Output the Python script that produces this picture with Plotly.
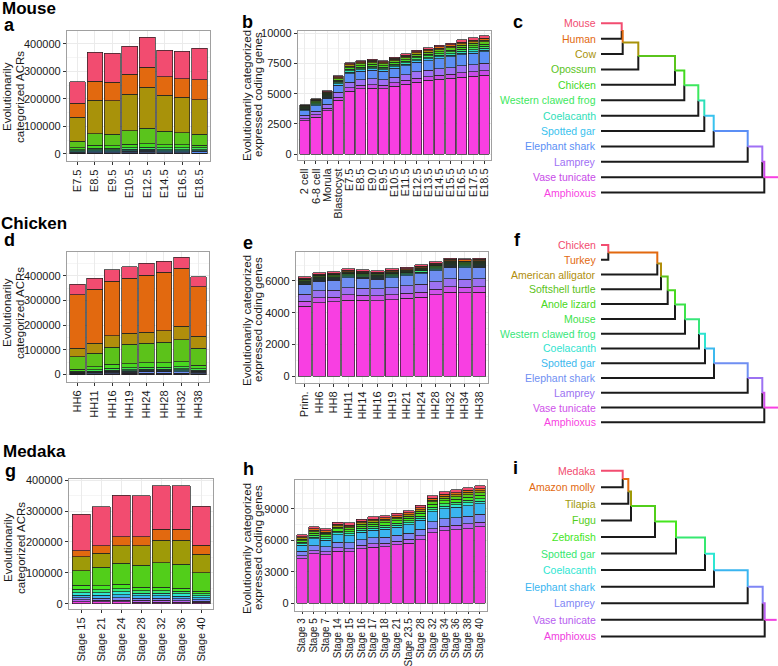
import plotly.graph_objects as go

W, H = 778, 666

# ------------------------------------------------------------------ Mouse
mouse_acr_stages = ["E7.5", "E8.5", "E9.5", "E10.5", "E12.5", "E14.5", "E16.5", "E18.5"]
mouse_gene_stages = ["2 cell", "6-8 cell", "Morula", "Blastocyst", "E7.5", "E8.5", "E9.0", "E9.5",
                     "E10.5", "E11.5", "E12.5", "E13.5", "E14.5", "E15.5", "E16.5", "E17.5", "E18.5"]
mouse_species = ["Mouse", "Human", "Cow", "Opossum", "Chicken", "Western clawed frog", "Coelacanth",
                 "Spotted gar", "Elephant shark", "Lamprey", "Vase tunicate", "Amphioxus"]
mouse_colors = ["#F24C70", "#E2690F", "#A8920A", "#5AC41C", "#42D91F", "#3DE85E", "#2DE0B8",
                "#38C2EE", "#5B8FF5", "#A070F5", "#C84BE8", "#F83FE2"]
mouse_acr_values = [
    [77000, 105000, 106000, 101000, 109000, 97000, 99000, 114000],
    [52000, 69000, 67000, 72000, 74000, 66000, 67000, 72000],
    [86000, 123000, 122000, 133000, 149000, 132000, 130000, 127000],
    [25000, 41000, 42000, 49000, 55000, 48000, 44000, 39000],
    [7000, 11000, 10000, 12500, 13000, 11500, 11000, 10000],
    [4000, 6000, 5500, 7000, 7500, 6500, 6300, 6000],
    [2500, 3500, 3300, 4000, 4200, 3800, 3700, 3500],
    [2000, 3000, 2800, 3300, 3500, 3200, 3100, 3000],
    [3000, 4500, 4400, 5000, 5500, 5000, 5000, 6000],
    [1200, 1500, 1500, 1600, 1600, 1500, 1500, 1300],
    [1200, 1300, 1300, 1400, 1400, 1300, 1300, 1200],
    [1100, 1200, 1200, 1200, 1300, 1200, 1100, 1000],
]
mouse_gene_values = [
    [40, 45, 65, 75, 80, 75, 88, 75, 82, 93, 109, 117, 127, 135, 176, 183, 205],
    [40, 50, 55, 70, 90, 90, 92, 90, 95, 100, 105, 108, 115, 118, 125, 130, 135],
    [50, 60, 65, 80, 100, 100, 102, 100, 105, 110, 115, 117, 122, 125, 132, 137, 140],
    [80, 95, 100, 120, 145, 145, 148, 145, 150, 155, 163, 167, 175, 180, 190, 196, 200],
    [70, 80, 85, 105, 125, 125, 128, 125, 128, 132, 138, 142, 150, 155, 162, 168, 170],
    [70, 80, 85, 105, 125, 125, 128, 125, 128, 132, 138, 142, 150, 155, 162, 168, 170],
    [60, 70, 75, 95, 110, 110, 112, 110, 112, 115, 120, 122, 128, 132, 138, 145, 150],
    [70, 80, 85, 100, 110, 110, 112, 110, 115, 118, 122, 125, 128, 130, 135, 138, 140],
    [390, 460, 500, 600, 700, 700, 715, 700, 725, 750, 790, 805, 845, 870, 915, 945, 965],
    [260, 300, 330, 390, 450, 450, 460, 450, 470, 480, 510, 520, 545, 560, 585, 595, 600],
    [170, 200, 210, 250, 290, 290, 295, 290, 300, 305, 320, 325, 335, 340, 350, 355, 360],
    [2780, 3050, 3575, 4480, 5225, 5420, 5470, 5420, 5610, 5800, 5970, 6100, 6190, 6270, 6380, 6460, 6545],
]
mouse_tree_nodes = [20.7, 21.7, 37.3, 74.0, 83.3, 97.3, 103.3, 112.7, 146.7, 161.3, 163.3]
mouse_tree_root = 177

# ------------------------------------------------------------------ Chicken
chicken_acr_stages = ["HH6", "HH11", "HH16", "HH19", "HH24", "HH28", "HH32", "HH38"]
chicken_gene_stages = ["Prim.", "HH6", "HH8", "HH11", "HH14", "HH16", "HH19", "HH21", "HH24",
                       "HH28", "HH32", "HH34", "HH38"]
chicken_species = ["Chicken", "Turkey", "American alligator", "Softshell turtle", "Anole lizard",
                   "Mouse", "Western clawed frog", "Coelacanth", "Spotted gar", "Elephant shark",
                   "Lamprey", "Vase tunicate", "Amphioxus"]
chicken_colors = ["#F24C70", "#E2690F", "#B08E0C", "#5CC21A", "#48D820", "#3DE24A", "#38E67A",
                  "#2FE3CF", "#3DB9EE", "#6F8FF2", "#9C72F2", "#CF52EA", "#F83FE2"]
chicken_acr_values = [
    [44000, 43000, 48000, 48000, 49000, 45000, 43000, 40000],
    [216000, 220000, 220000, 222000, 232000, 237000, 236000, 201000],
    [34000, 41000, 48000, 45000, 44000, 47000, 55000, 48000],
    [52000, 54000, 68000, 78000, 79000, 82000, 89000, 69000],
    [8000, 13000, 17000, 18000, 19000, 19500, 20000, 15000],
    [3000, 5000, 6500, 7000, 7500, 7700, 8000, 6000],
    [2000, 3000, 4000, 4300, 4600, 4700, 5000, 3600],
    [1500, 2000, 2700, 3000, 3200, 3200, 3500, 2500],
    [1500, 2000, 2500, 2700, 3000, 3000, 3200, 2300],
    [2500, 3500, 5000, 5500, 6000, 6200, 7500, 4800],
    [1000, 1300, 1600, 1600, 1700, 1700, 1800, 1400],
    [800, 1100, 1400, 1500, 1500, 1500, 1500, 1200],
    [700, 1100, 1300, 1400, 1500, 1500, 1500, 1200],
]
chicken_gene_values = [
    [90, 91, 88, 92, 83, 88, 93, 94, 94, 89, 70, 70, 70],
    [70, 72, 73, 74, 73, 72, 73, 75, 78, 80, 82, 82, 82],
    [40, 41, 42, 43, 42, 41, 42, 43, 45, 46, 48, 48, 48],
    [50, 52, 53, 54, 53, 52, 53, 54, 56, 57, 60, 60, 60],
    [50, 52, 53, 54, 53, 52, 53, 54, 56, 57, 60, 60, 60],
    [50, 52, 53, 54, 53, 52, 53, 54, 56, 57, 60, 60, 60],
    [60, 62, 63, 64, 63, 62, 63, 64, 67, 68, 71, 71, 71],
    [50, 52, 53, 54, 53, 52, 53, 54, 56, 57, 59, 59, 59],
    [60, 60, 62, 63, 62, 61, 62, 64, 66, 67, 70, 70, 70],
    [600, 615, 620, 635, 620, 610, 630, 640, 665, 680, 710, 710, 710],
    [430, 440, 445, 455, 445, 440, 450, 460, 480, 490, 510, 510, 510],
    [300, 310, 310, 320, 315, 310, 315, 320, 330, 340, 350, 350, 350],
    [4420, 4630, 4675, 4800, 4780, 4760, 4820, 4905, 4970, 5135, 5285, 5260, 5285],
]
chicken_tree_nodes = [7.3, 56.3, 60.0, 66.7, 74.0, 84.0, 98.0, 104.0, 113.0, 146.7, 161.3, 163.3]
chicken_tree_root = 177

# ------------------------------------------------------------------ Medaka
medaka_acr_stages = ["Stage 15", "Stage 21", "Stage 24", "Stage 28", "Stage 32", "Stage 36", "Stage 40"]
medaka_gene_stages = ["Stage 3", "Stage 5", "Stage 7", "Stage 14", "Stage 15", "Stage 16", "Stage 17",
                      "Stage 18", "Stage 21", "Stage 23.5", "Stage 28", "Stage 32", "Stage 34",
                      "Stage 36", "Stage 38", "Stage 40"]
medaka_species = ["Medaka", "Amazon molly", "Tilapia", "Fugu", "Zebrafish", "Spotted gar",
                  "Coelacanth", "Elephant shark", "Lamprey", "Vase tunicate", "Amphioxus"]
medaka_colors = ["#F24C70", "#E2690F", "#9E9A08", "#52CE1A", "#45E61E", "#36E870", "#2EE6D2",
                 "#3AB5F0", "#7F86F5", "#B860F0", "#F040E0"]
medaka_acr_values = [
    [118000, 126000, 134000, 133000, 140000, 141000, 126000],
    [20000, 25000, 29000, 29000, 35000, 35000, 29000],
    [45000, 45000, 57000, 64000, 73000, 79000, 60000],
    [48000, 60000, 68000, 71000, 80000, 77000, 60000],
    [13000, 13000, 14000, 11000, 11000, 10000, 8000],
    [10000, 10000, 11000, 9000, 9000, 8500, 6500],
    [8000, 8000, 9000, 7500, 7500, 7000, 5500],
    [9000, 9000, 10000, 8500, 8500, 8000, 6500],
    [7000, 7000, 7500, 6500, 6500, 6500, 5000],
    [6000, 5500, 6000, 5500, 5500, 5000, 4500],
    [6000, 5500, 5500, 5000, 5000, 5000, 4000],
]
medaka_gene_values = [
    [175, 180, 167, 193, 197, 198, 211, 201, 203, 208, 220, 243, 252, 262, 266, 250],
    [110, 130, 125, 140, 138, 143, 145, 150, 152, 157, 165, 181, 188, 193, 198, 200],
    [110, 130, 125, 140, 138, 143, 145, 150, 152, 157, 165, 181, 188, 193, 198, 200],
    [140, 160, 155, 175, 172, 180, 182, 188, 190, 196, 206, 226, 236, 242, 248, 250],
    [170, 195, 188, 212, 210, 217, 219, 226, 229, 236, 248, 273, 285, 292, 300, 300],
    [140, 160, 155, 175, 172, 180, 182, 188, 190, 196, 206, 226, 236, 242, 248, 250],
    [150, 165, 160, 180, 178, 184, 186, 192, 194, 200, 210, 230, 240, 246, 252, 250],
    [580, 650, 630, 710, 700, 725, 735, 760, 765, 790, 830, 910, 950, 975, 1000, 1000],
    [430, 490, 470, 530, 525, 545, 550, 570, 575, 590, 620, 685, 715, 735, 750, 750],
    [260, 290, 280, 315, 310, 320, 325, 335, 340, 350, 370, 405, 425, 435, 445, 450],
    [4250, 4720, 4625, 4970, 4910, 5190, 5350, 5380, 5570, 5730, 6075, 6700, 6925, 6985, 7110, 7270],
]
medaka_tree_nodes = [21.7, 27.3, 30.0, 54.0, 75.0, 104.0, 113.0, 146.7, 161.7, 163.7]
medaka_tree_root = 175.7

FONT = "Liberation Sans, Arial, Helvetica, sans-serif"
TXT = "#1a1a1a"


def xd(p0, p1):
    return [p0 / W, p1 / W]


def yd(p0, p1):
    return [1 - p1 / H, 1 - p0 / H]


fig = go.Figure()
layout = dict(
    width=W, height=H, margin=dict(l=0, r=0, t=0, b=0),
    paper_bgcolor="white", plot_bgcolor="white",
    barmode="stack", bargap=0.1, showlegend=False,
    font=dict(family=FONT, color=TXT),
    annotations=[],
)


def add_bars(idx, cats, species, colors, values, xdom, ydom, yrange, dtick, xfont=11, xticklen=3):
    sx = "x" if idx == 1 else f"x{idx}"
    sy = "y" if idx == 1 else f"y{idx}"
    for name, col, vals in reversed(list(zip(species, colors, values))):
        fig.add_trace(go.Bar(x=cats, y=vals, name=name, marker=dict(color=col, line=dict(color="#222222", width=0.7)),
                             xaxis=sx, yaxis=sy, hoverinfo="skip"))
    n = len(cats)
    kx = "xaxis" if idx == 1 else f"xaxis{idx}"
    ky = "yaxis" if idx == 1 else f"yaxis{idx}"
    layout[kx] = dict(domain=xd(*xdom), anchor=sy, type="category", range=[-0.6, n - 0.4],
                      categoryorder="array", categoryarray=cats,
                      tickmode="array", tickvals=cats, ticktext=cats,
                      tickangle=-90, showgrid=True, gridcolor="#EBEBEB", gridwidth=1,
                      showline=True, mirror=True, linecolor="#A0A0A0", linewidth=1.2,
                      ticks="outside", ticklen=xticklen, tickcolor="#333333",
                      tickfont=dict(size=xfont, color=TXT, family=FONT), zeroline=False, automargin=False,
                      fixedrange=True)
    layout[ky] = dict(domain=yd(*ydom), anchor=sx, range=yrange, tickmode="linear", tick0=0, dtick=dtick,
                      tickformat="d", showgrid=True, gridcolor="#EBEBEB", gridwidth=1,
                      minor=dict(dtick=dtick / 2, tick0=0, showgrid=True, gridcolor="#F5F5F5", ticklen=0),
                      showline=True, mirror=True, linecolor="#A0A0A0", linewidth=1.2,
                      ticks="outside", ticklen=3, tickcolor="#333333",
                      tickfont=dict(size=11, color=TXT, family=FONT), zeroline=False, automargin=False,
                      fixedrange=True)


def add_tree(idx, species, colors, nodes, root_end, ydom_px, first_row_px, row_px):
    sx, sy = f"x{idx}", f"y{idx}"
    n = len(species)
    node_y = []
    prev = 0.0
    for k in range(1, n):
        prev = (prev + k) / 2
        node_y.append(prev)
    bx, by = [], []
    for k in range(1, n):
        xn = nodes[k - 1]
        bx += [0, xn, xn, None]
        by += [k, k, node_y[k - 1], None]
    fig.add_trace(go.Scatter(x=bx, y=by, mode="lines", line=dict(color="#1a1a1a", width=2),
                             xaxis=sx, yaxis=sy, hoverinfo="skip"))

    def seg(xs, ys, c):
        fig.add_trace(go.Scatter(x=xs, y=ys, mode="lines", line=dict(color=c, width=2),
                                 xaxis=sx, yaxis=sy, hoverinfo="skip"))
    seg([0, nodes[0], nodes[0]], [0, 0, node_y[0]], colors[0])
    for k in range(1, n - 1):
        seg([nodes[k - 1], nodes[k], nodes[k]], [node_y[k - 1], node_y[k - 1], node_y[k]], colors[k])
    seg([nodes[n - 2], root_end], [node_y[n - 2], node_y[n - 2]], colors[n - 1])

    for k, (s, c) in enumerate(zip(species, colors)):
        layout["annotations"].append(dict(x=0, y=k, xref=sx, yref=sy, text=s, showarrow=False,
                                          xanchor="right", yanchor="middle", xshift=-3,
                                          font=dict(size=10.5, color=c, family=FONT)))
    top, bot = ydom_px
    r_top = (top - first_row_px) / row_px
    r_bot = (bot - first_row_px) / row_px
    layout[f"xaxis{idx}"] = dict(domain=xd(601, 778), anchor=sy, range=[0, 177], visible=False, fixedrange=True)
    layout[f"yaxis{idx}"] = dict(domain=yd(top, bot), anchor=sx, range=[r_bot, r_top], visible=False, fixedrange=True)


# bar panels
add_bars(1, mouse_acr_stages, mouse_species, mouse_colors, mouse_acr_values, (67, 210), (31, 161), [-25500, 447000], 100000)
add_bars(2, mouse_gene_stages, mouse_species, mouse_colors, mouse_gene_values, (298, 491), (31, 160), [-480, 10190], 2500)
add_bars(3, chicken_acr_stages, chicken_species, chicken_colors, chicken_acr_values, (67, 209), (252, 382), [-30000, 497000], 100000)
add_bars(4, chicken_gene_stages, chicken_species, chicken_colors, chicken_gene_values, (296, 488), (252, 383), [-440, 7830], 2000)
add_bars(5, medaka_acr_stages, medaka_species, medaka_colors, medaka_acr_values, (69, 213), (479, 609), [-17200, 403600], 100000)
add_bars(6, medaka_gene_stages, medaka_species, medaka_colors, medaka_gene_values, (295, 487), (480, 611), [-727, 11740], 3000,
         xfont=10, xticklen=2)

# trees
add_tree(7, mouse_species, mouse_colors, mouse_tree_nodes, mouse_tree_root, (0, 210), 23.3, 15.39)
add_tree(8, chicken_species, chicken_colors, chicken_tree_nodes, chicken_tree_root, (210, 440), 245.0, 14.78)
add_tree(9, medaka_species, medaka_colors, medaka_tree_nodes, medaka_tree_root, (430, 666), 470.7, 16.57)


def ann(text, x, y, size, bold=False, angle=0, xanchor="left"):
    layout["annotations"].append(dict(
        x=x / W, y=1 - y / H, xref="paper", yref="paper", text=f"<b>{text}</b>" if bold else text,
        showarrow=False, xanchor=xanchor, yanchor="middle", textangle=angle,
        font=dict(size=size, color="#000000" if bold else TXT, family=FONT)))


# species headings and panel letters
ann("Mouse", 0, 9, 17, bold=True)
ann("Chicken", -1, 223, 17, bold=True)
ann("Medaka", 1, 451, 17, bold=True)
for letter, x, y in [("a", 2, 25), ("b", 240, 22), ("c", 511, 22),
                     ("d", 2, 240), ("e", 241, 243), ("f", 512, 240),
                     ("g", 3, 471), ("h", 241, 469), ("i", 511, 468)]:
    ann(letter, x, y, 18, bold=True)

# y-axis titles (one annotation per line)
for l1, l2, x1, x2, y in [("Evolutionarily", "categorized ACRs", 7, 20, 97),
                          ("Evolutionarily categorized", "expressed coding genes", 247, 258, 95),
                          ("Evolutionarily", "categorized ACRs", 7, 20, 313),
                          ("Evolutionarily categorized", "expressed coding genes", 247, 258, 320),
                          ("Evolutionarily", "categorized ACRs", 8, 21, 548),
                          ("Evolutionarily categorized", "expressed coding genes", 247, 258, 548)]:
    ann(l1, x1, y, 11.5, angle=-90, xanchor="center")
    ann(l2, x2, y, 11.5, angle=-90, xanchor="center")

fig.update_layout(**layout)
fig.write_html("out.html", config={"displayModeBar": False},
               post_script="document.body.style.margin='0';document.body.style.overflow='hidden';")
